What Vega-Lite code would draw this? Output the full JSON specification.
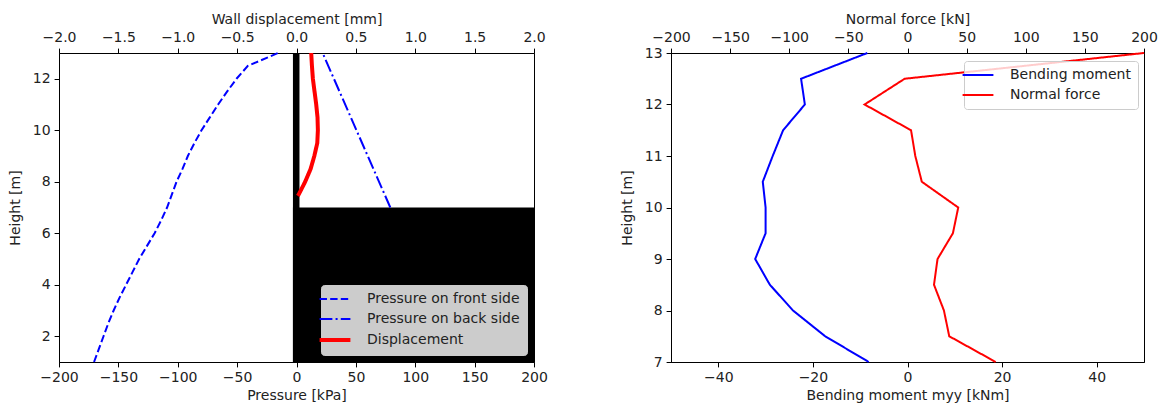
{
  "$schema": "https://vega.github.io/schema/vega-lite/v6.json",
  "padding": {"left": 7, "top": 11, "right": 5, "bottom": 0},
  "background": "white",
  "spacing": 71,
  "resolve": {
    "scale": {"color": "independent", "strokeDash": "independent"},
    "legend": {"color": "independent", "strokeDash": "independent"}
  },
  "config": {
    "font": "DejaVu Sans",
    "view": {"stroke": "black", "strokeWidth": 1},
    "axis": {
      "domainColor": "black", "tickColor": "black", "labelColor": "#222", "titleColor": "#222",
      "labelFontSize": 14, "titleFontSize": 14, "titleFontWeight": "normal",
      "labelFont": "DejaVu Sans", "titleFont": "DejaVu Sans",
      "grid": false, "tickSize": 4.9, "labelPadding": 4, "titlePadding": 4,
      "labelFlush": false, "labelOverlap": false, "domainWidth": 1, "tickWidth": 1
    },
    "legend": {
      "labelFont": "DejaVu Sans", "labelFontSize": 14, "labelColor": "#222",
      "fillColor": "rgba(255,255,255,0.8)", "strokeColor": "#cccccc", "cornerRadius": 3,
      "padding": 7, "symbolType": "stroke", "labelOffset": 25
    }
  },
  "hconcat": [
    {
      "width": 475, "height": 309,
      "layer": [
        {
          "layer": [
            {
              "data": {"values": [
                {"part": "wall", "x1": -3, "x2": 2.5, "y1": 1, "y2": 13},
                {"part": "soil", "x1": -3, "x2": 200, "y1": 1, "y2": 7}
              ]},
              "mark": {"type": "rect", "color": "black"},
              "encoding": {
                "x": {"field": "x1", "type": "quantitative",
                  "scale": {"domain": [-200, 200], "nice": false, "zero": false},
                  "axis": {"orient": "bottom", "title": "Pressure [kPa]", "values": [-200,-150,-100,-50,0,50,100,150,200], "format": "d"}},
                "x2": {"field": "x2"},
                "y": {"field": "y1", "type": "quantitative",
                  "scale": {"domain": [1, 13], "nice": false, "zero": false},
                  "axis": {"title": "Height [m]", "values": [2,4,6,8,10,12], "titlePadding": 10}},
                "y2": {"field": "y2"}
              }
            },
            {
              "data": {"values": [
                {"series": "Pressure on front side", "height": 1, "pressure": -170.5},
                {"series": "Pressure on front side", "height": 1.5, "pressure": -166.5},
                {"series": "Pressure on front side", "height": 2, "pressure": -162.5},
                {"series": "Pressure on front side", "height": 2.5, "pressure": -158.5},
                {"series": "Pressure on front side", "height": 3, "pressure": -154},
                {"series": "Pressure on front side", "height": 3.5, "pressure": -149},
                {"series": "Pressure on front side", "height": 4, "pressure": -143.5},
                {"series": "Pressure on front side", "height": 4.5, "pressure": -138},
                {"series": "Pressure on front side", "height": 5, "pressure": -132.5},
                {"series": "Pressure on front side", "height": 5.5, "pressure": -126},
                {"series": "Pressure on front side", "height": 6, "pressure": -119.5},
                {"series": "Pressure on front side", "height": 6.5, "pressure": -114},
                {"series": "Pressure on front side", "height": 7, "pressure": -109},
                {"series": "Pressure on front side", "height": 7.5, "pressure": -105},
                {"series": "Pressure on front side", "height": 8, "pressure": -101},
                {"series": "Pressure on front side", "height": 8.5, "pressure": -96},
                {"series": "Pressure on front side", "height": 9, "pressure": -91.5},
                {"series": "Pressure on front side", "height": 9.5, "pressure": -86},
                {"series": "Pressure on front side", "height": 10, "pressure": -80},
                {"series": "Pressure on front side", "height": 10.5, "pressure": -73},
                {"series": "Pressure on front side", "height": 11, "pressure": -66},
                {"series": "Pressure on front side", "height": 11.5, "pressure": -58.5},
                {"series": "Pressure on front side", "height": 12, "pressure": -50.5},
                {"series": "Pressure on front side", "height": 12.5, "pressure": -41},
                {"series": "Pressure on front side", "height": 13, "pressure": -15.5},
                {"series": "Pressure on back side", "height": 7, "pressure": 79},
                {"series": "Pressure on back side", "height": 13, "pressure": 22}
              ]},
              "mark": {"type": "line", "strokeWidth": 2},
              "encoding": {
                "x": {"field": "pressure", "type": "quantitative"},
                "y": {"field": "height", "type": "quantitative"},
                "order": {"field": "height", "type": "quantitative"},
                "color": {"field": "series", "type": "nominal",
                  "scale": {"domain": ["Pressure on front side", "Pressure on back side", "Displacement"], "range": ["#0000ff", "#0000ff", "#ff0000"]},
                  "legend": {"title": null, "orient": "bottom-right", "offset": 7, "symbolSize": 950, "rowPadding": 6,
                    "encode": {"symbols": {"update": {"strokeWidth": {"signal": "datum.value === 'Displacement' ? 4 : 2"}}}}}},
                "strokeDash": {"field": "series", "type": "nominal",
                  "scale": {"domain": ["Pressure on front side", "Pressure on back side", "Displacement"], "range": [[7.4, 3.2], [12.8, 3.2, 2, 3.2], [1, 0]]},
                  "legend": {"title": null}}
              }
            }
          ]
        },
        {
          "data": {"values": [
            {"series": "Displacement", "height": 7.45, "disp": 0.011},
            {"series": "Displacement", "height": 7.5, "disp": 0.018},
            {"series": "Displacement", "height": 8, "disp": 0.073},
            {"series": "Displacement", "height": 8.5, "disp": 0.119},
            {"series": "Displacement", "height": 9, "disp": 0.15},
            {"series": "Displacement", "height": 9.5, "disp": 0.175},
            {"series": "Displacement", "height": 10, "disp": 0.18},
            {"series": "Displacement", "height": 10.5, "disp": 0.177},
            {"series": "Displacement", "height": 11, "disp": 0.166},
            {"series": "Displacement", "height": 11.5, "disp": 0.152},
            {"series": "Displacement", "height": 12, "disp": 0.138},
            {"series": "Displacement", "height": 12.5, "disp": 0.13},
            {"series": "Displacement", "height": 13, "disp": 0.124}
          ]},
          "mark": {"type": "line", "strokeWidth": 4},
          "encoding": {
            "x": {"field": "disp", "type": "quantitative",
              "scale": {"domain": [-2, 2], "nice": false, "zero": false},
              "axis": {"orient": "top", "title": "Wall displacement [mm]", "values": [-2,-1.5,-1,-0.5,0,0.5,1,1.5,2], "format": ".1f"}},
            "y": {"field": "height", "type": "quantitative"},
            "order": {"field": "height", "type": "quantitative"},
            "color": {"field": "series", "type": "nominal"},
            "strokeDash": {"field": "series", "type": "nominal"}
          }
        }
      ],
      "resolve": {"scale": {"x": "independent"}, "axis": {"x": "independent"}}
    },
    {
      "width": 473, "height": 309,
      "layer": [
        {
          "data": {"values": [
            {"series": "Bending moment", "height": 7, "moment": -8.2},
            {"series": "Bending moment", "height": 7.5, "moment": -17.4},
            {"series": "Bending moment", "height": 8, "moment": -24.2},
            {"series": "Bending moment", "height": 8.5, "moment": -29.1},
            {"series": "Bending moment", "height": 9, "moment": -32.2},
            {"series": "Bending moment", "height": 9.5, "moment": -30.0},
            {"series": "Bending moment", "height": 10, "moment": -30.0},
            {"series": "Bending moment", "height": 10.5, "moment": -30.6},
            {"series": "Bending moment", "height": 11, "moment": -28.5},
            {"series": "Bending moment", "height": 11.5, "moment": -26.3},
            {"series": "Bending moment", "height": 12, "moment": -21.7},
            {"series": "Bending moment", "height": 12.5, "moment": -22.5},
            {"series": "Bending moment", "height": 13, "moment": -8.5}
          ]},
          "mark": {"type": "line", "strokeWidth": 2},
          "encoding": {
            "x": {"field": "moment", "type": "quantitative",
              "scale": {"domain": [-50, 50], "nice": false, "zero": false},
              "axis": {"orient": "bottom", "title": "Bending moment myy [kNm]", "values": [-40,-20,0,20,40], "format": "d"}},
            "y": {"field": "height", "type": "quantitative",
              "scale": {"domain": [7, 13], "nice": false, "zero": false},
              "axis": {"title": "Height [m]", "values": [7,8,9,10,11,12,13], "titlePadding": 10}},
            "order": {"field": "height", "type": "quantitative"},
            "color": {"field": "series", "type": "nominal",
              "scale": {"domain": ["Bending moment", "Normal force"], "range": ["#0000ff", "#ff0000"]},
              "legend": {"title": null, "orient": "none", "legendX": 293, "legendY": 8, "symbolSize": 950, "rowPadding": 6,
                "encode": {"symbols": {"update": {"strokeWidth": {"signal": "datum.value === 'Displacement' ? 4 : 2"}}}}}},
            "strokeDash": {"field": "series", "type": "nominal",
              "scale": {"domain": ["Bending moment", "Normal force"], "range": [[1, 0], [1, 0]]},
              "legend": {"title": null}}
          }
        },
        {
          "data": {"values": [
            {"series": "Normal force", "height": 7, "force": 74.6},
            {"series": "Normal force", "height": 7.5, "force": 35.3},
            {"series": "Normal force", "height": 8, "force": 30.8},
            {"series": "Normal force", "height": 8.5, "force": 22.4},
            {"series": "Normal force", "height": 9, "force": 25.4},
            {"series": "Normal force", "height": 9.5, "force": 38.4},
            {"series": "Normal force", "height": 10, "force": 42.9},
            {"series": "Normal force", "height": 10.5, "force": 12.1},
            {"series": "Normal force", "height": 11, "force": 6.6},
            {"series": "Normal force", "height": 11.5, "force": 3.0},
            {"series": "Normal force", "height": 12, "force": -36.3},
            {"series": "Normal force", "height": 12.5, "force": -2.4},
            {"series": "Normal force", "height": 13, "force": 200}
          ]},
          "mark": {"type": "line", "strokeWidth": 2},
          "encoding": {
            "x": {"field": "force", "type": "quantitative",
              "scale": {"domain": [-200, 200], "nice": false, "zero": false},
              "axis": {"orient": "top", "title": "Normal force [kN]", "values": [-200,-150,-100,-50,0,50,100,150,200], "format": "d"}},
            "y": {"field": "height", "type": "quantitative"},
            "order": {"field": "height", "type": "quantitative"},
            "color": {"field": "series", "type": "nominal"},
            "strokeDash": {"field": "series", "type": "nominal"}
          }
        }
      ],
      "resolve": {"scale": {"x": "independent"}, "axis": {"x": "independent"}}
    }
  ]
}
